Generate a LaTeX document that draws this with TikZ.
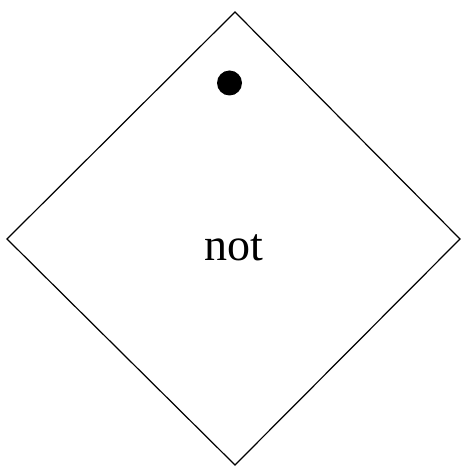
\documentclass[tikz,border=0pt]{standalone}
\usepackage{fontspec}
\setmainfont{Liberation Serif}
\begin{document}
\begin{tikzpicture}[x=1pt,y=1pt,
  shapeline/.style={draw=black,line width=1.2pt,line join=miter},
  lbl/.style={font=\fontsize{46}{50}\selectfont,inner sep=0pt,anchor=base}]
\useasboundingbox (0,0) rectangle (461,466);
\coordinate (T) at (235,454);
\coordinate (L) at (7,227);
\coordinate (R) at (460,227);
\coordinate (B) at (235,1);
\draw[shapeline] (T) -- (R) -- (B) -- (L) -- cycle;
\fill[black] (229.5,383) circle (12.5);
\node[lbl] (txt) at (233.5,205) {not};
\end{tikzpicture}
\end{document}
